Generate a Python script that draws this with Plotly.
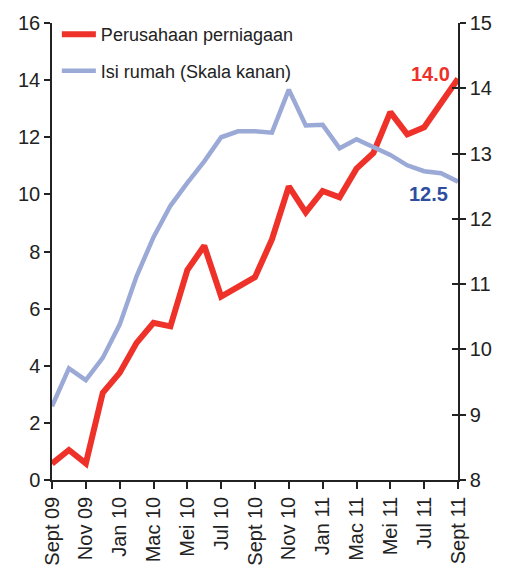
import plotly.graph_objects as go

months = ["Sept 09", "Okt 09", "Nov 09", "Dis 09", "Jan 10", "Feb 10", "Mac 10", "Apr 10",
          "Mei 10", "Jun 10", "Jul 10", "Ogos 10", "Sept 10", "Okt 10", "Nov 10", "Dis 10",
          "Jan 11", "Feb 11", "Mac 11", "Apr 11", "Mei 11", "Jun 11", "Jul 11", "Ogos 11", "Sept 11"]
tick_labels = months[::2]

perniagaan = [0.57, 1.05, 0.58, 3.05, 3.75, 4.8, 5.5, 5.38, 7.35, 8.2, 6.42, 6.75, 7.1, 8.42,
              10.28, 9.37, 10.12, 9.9, 10.9, 11.45, 12.88, 12.1, 12.35, 13.2, 14.05]
isi_rumah = [9.13, 9.71, 9.53, 9.87, 10.38, 11.12, 11.72, 12.2, 12.55, 12.88, 13.25, 13.34,
             13.34, 13.32, 13.98, 13.43, 13.44, 13.08, 13.22, 13.1, 12.98, 12.82, 12.73, 12.7, 12.57]

RED = "#ee3129"
BLUE = "#9ba9d6"
FONT = "Liberation Sans"
INK = "#222222"

fig = go.Figure()
fig.add_trace(go.Scatter(x=months, y=isi_rumah, mode="lines", name="Isi rumah (Skala kanan)",
                         line=dict(color=BLUE, width=4.5), legendgroup="b", legendrank=2,
                         yaxis="y2"))
fig.add_trace(go.Scatter(x=months, y=perniagaan, mode="lines", name="Perusahaan perniagaan",
                         line=dict(color=RED, width=6), legendgroup="a", legendrank=1,
                         yaxis="y"))

fig.add_annotation(x=months[-1], y=perniagaan[-1], yref="y", text="<b>14.0</b>", showarrow=False,
                   xanchor="right", yanchor="middle", xshift=-6, yshift=5,
                   font=dict(color=RED, size=20, family=FONT))
fig.add_annotation(x=months[-1], y=isi_rumah[-1], yref="y2", text="<b>12.5</b>", showarrow=False,
                   xanchor="right", yanchor="middle", xshift=-8, yshift=-12,
                   font=dict(color="#2f4d9e", size=20, family=FONT))

axis_font = dict(family=FONT, size=20, color=INK)
common = dict(showline=True, linecolor=INK, linewidth=1.5, showgrid=False, zeroline=False,
              tickcolor=INK, tickwidth=1.5)
fig.update_layout(
    width=505, height=570,
    margin=dict(l=44, r=55, t=15, b=98, autoexpand=False),
    paper_bgcolor="white", plot_bgcolor="white",
    showlegend=True,
    legend=dict(x=0.012, y=1.015, xanchor="left", yanchor="top", traceorder="grouped",
                font=dict(family=FONT, size=18, color=INK),
                tracegroupgap=10, bgcolor="rgba(0,0,0,0)", itemwidth=34),
    xaxis=dict(type="category", range=[0, 24], tickmode="array", tickvals=tick_labels,
               ticktext=tick_labels, tickangle=-90, ticks="outside", ticklen=7,
               tickfont=axis_font, automargin=False, **common),
    xaxis2=dict(type="category", range=[0, 24], tickmode="array", tickvals=tick_labels,
                overlaying="x", side="bottom", ticks="inside", ticklen=6, showticklabels=False,
                showline=False, showgrid=False, zeroline=False, tickcolor=INK, tickwidth=1.5),
    yaxis=dict(range=[0, 16], dtick=2, ticks="outside", ticklen=6, tickfont=axis_font,
               automargin=False, **common),
    yaxis2=dict(range=[8, 15], dtick=1, overlaying="y", side="right", ticks="outside", ticklen=6,
                tickfont=axis_font, automargin=False, **common),
    yaxis3=dict(range=[8, 15], dtick=1, overlaying="y", side="right", ticks="inside", ticklen=6,
                showticklabels=False, showline=False, showgrid=False, zeroline=False,
                tickcolor=INK, tickwidth=1.5),
)
# invisible helper trace so the overlay tick axes are rendered
fig.add_trace(go.Scatter(x=[months[0]], y=[None], xaxis="x2", yaxis="y3", showlegend=False,
                         hoverinfo="skip"))
fig.write_html("out.html")
